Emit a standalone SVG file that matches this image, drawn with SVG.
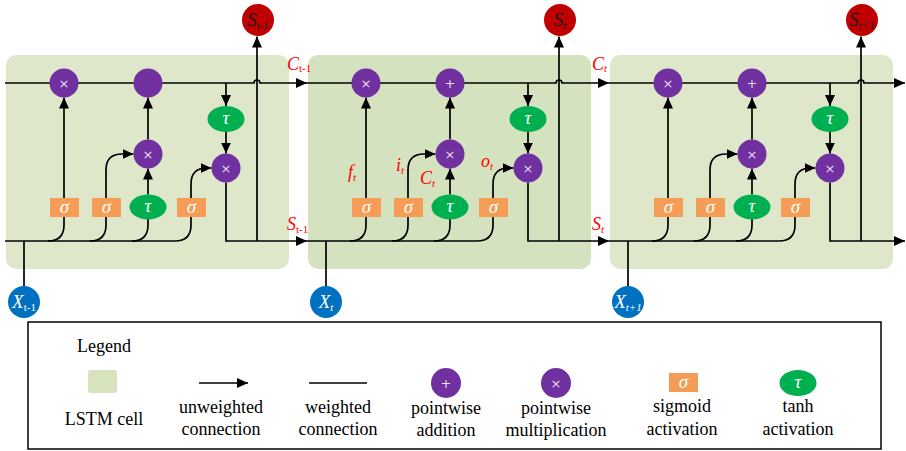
<svg xmlns="http://www.w3.org/2000/svg" width="906" height="451" viewBox="0 0 906 451">
<style>
.ln{fill:none;stroke:#000;stroke-width:1.7}
.ar{marker-end:url(#ah)}
.cellA{fill:#dfe7cb}
.cellB{fill:#d5e2bf}
.pw{fill:#7030a0}
.sg{fill:#f59d56}
.th{fill:#00b050}
.op{fill:#e8dcf4;font-family:"DejaVu Sans",sans-serif;font-size:13px;text-anchor:middle}
.gk{fill:#fff;font-family:"Liberation Serif",serif;font-style:italic;font-size:19px;text-anchor:middle}
.lbl{fill:#ff0000;font-family:"Liberation Serif",serif;font-style:italic;font-size:18px}
.sub{font-size:11px;font-style:normal}
.subi{font-size:11px}
.lg{fill:#000;font-family:"Liberation Serif",serif;font-size:18px;text-anchor:middle}
.sc{fill:#c00000}
.xc{fill:#0070c0}
.st{fill:#1a1a1a;font-family:"Liberation Serif",serif;font-style:italic;font-size:19px;text-anchor:middle}
.xt{fill:#fff;font-family:"Liberation Serif",serif;font-style:italic;font-size:19px;text-anchor:middle}
</style>
<defs>
<marker id="ah" markerWidth="11" markerHeight="10" refX="11" refY="5" orient="auto" markerUnits="userSpaceOnUse"><path d="M0,0 L11,5 L0,10 z" fill="#000"/></marker>
</defs>
<rect width="906" height="451" fill="#fff"/>
<g id="cells">
<rect id="cell1" class="cellA" x="6" y="55" width="283" height="214" rx="10"/>
<rect id="cell2" class="cellB" x="308" y="55" width="283" height="214" rx="10"/>
<rect id="cell3" class="cellA" x="610" y="55" width="283" height="214" rx="10"/>
</g>
<g id="connectors">
<g id="conn1">
<path class="ln ar" d="M5 83 L254 83 A3 3 0 0 1 260 83 L307 83"/>
<path class="ln ar" d="M226 83 L226 106"/>
<path class="ln ar" d="M226 132 L226 153.5"/>
<path class="ln ar" d="M226 182.5 L226 241 L307 241"/>
<path class="ln ar" d="M257 241 L257 36.5"/>
<path class="ln ar" d="M5 241 L175 241 Q191 241 191 225 L191 184 Q191 168 207 168 L211.5 168"/>
<path class="ln ar" d="M48 241 Q64 241 64 225 L64 97.5"/>
<path class="ln ar" d="M90 241 Q106 241 106 225 L106 170 Q106 154 122 154 L133.5 154"/>
<path class="ln" d="M132 241 Q148 241 148 225 L148 219"/>
<path class="ln ar" d="M148 194.5 L148 168.5"/>
<path class="ln ar" d="M148 139.5 L148 97.5"/>
<path class="ln" d="M24 286 L24 241"/>
</g>
<g id="conn2" transform="translate(302,0)">
<path class="ln ar" d="M5 83 L254 83 A3 3 0 0 1 260 83 L307 83"/>
<path class="ln ar" d="M226 83 L226 106"/>
<path class="ln ar" d="M226 132 L226 153.5"/>
<path class="ln ar" d="M226 182.5 L226 241 L307 241"/>
<path class="ln ar" d="M257 241 L257 36.5"/>
<path class="ln ar" d="M5 241 L175 241 Q191 241 191 225 L191 184 Q191 168 207 168 L211.5 168"/>
<path class="ln ar" d="M48 241 Q64 241 64 225 L64 97.5"/>
<path class="ln ar" d="M90 241 Q106 241 106 225 L106 170 Q106 154 122 154 L133.5 154"/>
<path class="ln" d="M132 241 Q148 241 148 225 L148 219"/>
<path class="ln ar" d="M148 194.5 L148 168.5"/>
<path class="ln ar" d="M148 139.5 L148 97.5"/>
<path class="ln" d="M24 286 L24 241"/>
</g>
<g id="conn3" transform="translate(604,0)">
<path class="ln ar" d="M5 83 L254 83 A3 3 0 0 1 260 83 L301 83"/>
<path class="ln ar" d="M226 83 L226 106"/>
<path class="ln ar" d="M226 132 L226 153.5"/>
<path class="ln ar" d="M226 182.5 L226 241 L301 241"/>
<path class="ln ar" d="M257 241 L257 36.5"/>
<path class="ln ar" d="M5 241 L175 241 Q191 241 191 225 L191 184 Q191 168 207 168 L211.5 168"/>
<path class="ln ar" d="M48 241 Q64 241 64 225 L64 97.5"/>
<path class="ln ar" d="M90 241 Q106 241 106 225 L106 170 Q106 154 122 154 L133.5 154"/>
<path class="ln" d="M132 241 Q148 241 148 225 L148 219"/>
<path class="ln ar" d="M148 194.5 L148 168.5"/>
<path class="ln ar" d="M148 139.5 L148 97.5"/>
<path class="ln" d="M24 286 L24 241"/>
</g>
</g>
<g id="nodes1">
<g id="c1-forget-mul"><circle class="pw" cx="64" cy="83" r="14.5"/><text class="op" x="64" y="88">×</text></g>
<g id="c1-add"><circle class="pw" cx="148" cy="83" r="14.5"/></g>
<g id="c1-tanh-out"><ellipse class="th" cx="226" cy="119" rx="18.5" ry="13"/><text class="gk" x="226" y="124">τ</text></g>
<g id="c1-in-mul"><circle class="pw" cx="148" cy="154" r="14.5"/><text class="op" x="148" y="159">×</text></g>
<g id="c1-out-mul"><circle class="pw" cx="226" cy="168" r="14.5"/><text class="op" x="226" y="173">×</text></g>
<g id="c1-sig-f"><rect class="sg" x="50" y="198" width="29" height="19"/><text class="gk" x="64.5" y="213">σ</text></g>
<g id="c1-sig-i"><rect class="sg" x="92" y="198" width="29" height="19"/><text class="gk" x="106.5" y="213">σ</text></g>
<g id="c1-tanh-in"><ellipse class="th" cx="148" cy="207" rx="18.5" ry="12.5"/><text class="gk" x="148" y="212">τ</text></g>
<g id="c1-sig-o"><rect class="sg" x="177" y="198" width="29" height="19"/><text class="gk" x="191.5" y="213">σ</text></g>
<g id="S1"><circle class="sc" cx="258" cy="20" r="16"/><text class="st" x="258" y="26">S<tspan class="sub" font-size="10" dy="3">t-1</tspan></text></g>
<g id="X1"><circle class="xc" cx="24" cy="302" r="16"/><text class="xt" x="24" y="308">X<tspan class="sub" font-size="10" dy="3">t-1</tspan></text></g>
</g>
<g id="nodes2" transform="translate(302,0)">
<g id="c2-forget-mul"><circle class="pw" cx="64" cy="83" r="14.5"/><text class="op" x="64" y="88">×</text></g>
<g id="c2-add"><circle class="pw" cx="148" cy="83" r="14.5"/><text class="op" x="148" y="88">+</text></g>
<g id="c2-tanh-out"><ellipse class="th" cx="226" cy="119" rx="18.5" ry="13"/><text class="gk" x="226" y="124">τ</text></g>
<g id="c2-in-mul"><circle class="pw" cx="148" cy="154" r="14.5"/><text class="op" x="148" y="159">×</text></g>
<g id="c2-out-mul"><circle class="pw" cx="226" cy="168" r="14.5"/><text class="op" x="226" y="173">×</text></g>
<g id="c2-sig-f"><rect class="sg" x="50" y="198" width="29" height="19"/><text class="gk" x="64.5" y="213">σ</text></g>
<g id="c2-sig-i"><rect class="sg" x="92" y="198" width="29" height="19"/><text class="gk" x="106.5" y="213">σ</text></g>
<g id="c2-tanh-in"><ellipse class="th" cx="148" cy="207" rx="18.5" ry="12.5"/><text class="gk" x="148" y="212">τ</text></g>
<g id="c2-sig-o"><rect class="sg" x="177" y="198" width="29" height="19"/><text class="gk" x="191.5" y="213">σ</text></g>
<g id="S2"><circle class="sc" cx="258" cy="20" r="16"/><text class="st" x="258" y="26">S<tspan class="subi" dy="3">t</tspan></text></g>
<g id="X2"><circle class="xc" cx="24" cy="302" r="16"/><text class="xt" x="24" y="308">X<tspan class="subi" dy="3">t</tspan></text></g>
</g>
<g id="nodes3" transform="translate(604,0)">
<g id="c3-forget-mul"><circle class="pw" cx="64" cy="83" r="14.5"/><text class="op" x="64" y="88">×</text></g>
<g id="c3-add"><circle class="pw" cx="148" cy="83" r="14.5"/><text class="op" x="148" y="88">+</text></g>
<g id="c3-tanh-out"><ellipse class="th" cx="226" cy="119" rx="18.5" ry="13"/><text class="gk" x="226" y="124">τ</text></g>
<g id="c3-in-mul"><circle class="pw" cx="148" cy="154" r="14.5"/><text class="op" x="148" y="159">×</text></g>
<g id="c3-out-mul"><circle class="pw" cx="226" cy="168" r="14.5"/><text class="op" x="226" y="173">×</text></g>
<g id="c3-sig-f"><rect class="sg" x="50" y="198" width="29" height="19"/><text class="gk" x="64.5" y="213">σ</text></g>
<g id="c3-sig-i"><rect class="sg" x="92" y="198" width="29" height="19"/><text class="gk" x="106.5" y="213">σ</text></g>
<g id="c3-tanh-in"><ellipse class="th" cx="148" cy="207" rx="18.5" ry="12.5"/><text class="gk" x="148" y="212">τ</text></g>
<g id="c3-sig-o"><rect class="sg" x="177" y="198" width="29" height="19"/><text class="gk" x="191.5" y="213">σ</text></g>
<g id="S3"><circle class="sc" cx="258" cy="20" r="16"/><text class="st" x="258" y="26">S<tspan class="subi" font-size="10" dy="3">t+1</tspan></text></g>
<g id="X3"><circle class="xc" cx="24" cy="302" r="16"/><text class="xt" x="24" y="308">X<tspan class="subi" font-size="10" dy="3">t+1</tspan></text></g>
</g>
<g id="labels">
<text class="lbl" x="287" y="70">C<tspan class="sub" dy="2">t-1</tspan></text>
<text class="lbl" x="287" y="230">S<tspan class="sub" dy="3">t-1</tspan></text>
<text class="lbl" x="592" y="70">C<tspan class="subi" dy="2">t</tspan></text>
<text class="lbl" x="592" y="230">S<tspan class="subi" dy="3">t</tspan></text>
<text class="lbl" x="348" y="178" font-size="17">f<tspan class="subi" dy="3">t</tspan></text>
<text class="lbl" x="396" y="171" font-size="17">i<tspan class="subi" dy="3">t</tspan></text>
<text class="lbl" x="420" y="184" font-size="17">C<tspan class="subi" dy="3">t</tspan></text>
<text class="lbl" x="481" y="167" font-size="17">o<tspan class="subi" dy="3">t</tspan></text>
</g>
<g id="legend">
<rect x="28" y="322" width="853" height="127" fill="#fff" stroke="#000" stroke-width="1.5"/>
<text class="lg" x="104" y="352">Legend</text>
<g id="lg-cell"><rect x="88" y="370" width="29" height="23" rx="3" fill="#d7e4bd"/><text class="lg" x="104" y="425">LSTM cell</text></g>
<g id="lg-unw"><path class="ln ar" d="M199 383 L248 383"/><text class="lg" x="221" y="413">unweighted</text><text class="lg" x="221" y="435">connection</text></g>
<g id="lg-w"><path class="ln" d="M309 383 L367 383"/><text class="lg" x="338" y="413">weighted</text><text class="lg" x="338" y="435">connection</text></g>
<g id="lg-add"><circle class="pw" cx="446" cy="383" r="15"/><text class="op" x="446" y="388">+</text><text class="lg" x="446" y="414">pointwise</text><text class="lg" x="446" y="436">addition</text></g>
<g id="lg-mul"><circle class="pw" cx="556" cy="383" r="15"/><text class="op" x="556" y="388">×</text><text class="lg" x="556" y="414">pointwise</text><text class="lg" x="556" y="436">multiplication</text></g>
<g id="lg-sig"><rect class="sg" x="669" y="373" width="29" height="19"/><text class="gk" x="683.5" y="388">σ</text><text class="lg" x="682" y="412">sigmoid</text><text class="lg" x="682" y="435">activation</text></g>
<g id="lg-tanh"><ellipse class="th" cx="798" cy="383" rx="18.5" ry="13"/><text class="gk" x="798" y="388">τ</text><text class="lg" x="798" y="412">tanh</text><text class="lg" x="798" y="435">activation</text></g>
</g>
</svg>
